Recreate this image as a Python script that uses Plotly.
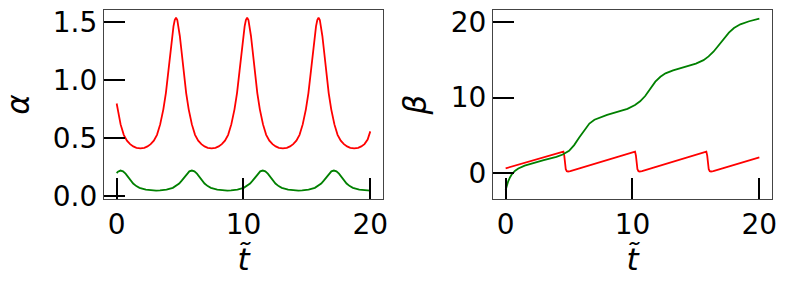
import plotly.graph_objects as go

# ---- left panel: alpha ----
t_alpha_red = [0, 0.31, 0.56, 0.81, 1.06, 1.31, 1.56, 1.87, 2.18, 2.43, 2.68, 2.93, 3.18, 3.43, 3.68, 3.88,
               4.08, 4.18, 4.28, 4.38, 4.48, 4.58, 4.68, 4.78, 4.88, 4.98, 5.08, 5.18, 5.28, 5.48, 5.68,
               5.93, 6.18, 6.43, 6.68, 6.93, 7.18, 7.485, 7.79, 8.04, 8.29, 8.54, 8.79, 9.04, 9.29, 9.49,
               9.69, 9.79, 9.89, 9.99, 10.09, 10.19, 10.29, 10.39, 10.49, 10.59, 10.69, 10.79, 10.89, 11.09,
               11.29, 11.54, 11.79, 12.04, 12.29, 12.54, 12.79, 13.105, 13.42, 13.67, 13.92, 14.17, 14.42,
               14.67, 14.92, 15.12, 15.32, 15.42, 15.52, 15.62, 15.72, 15.82, 15.92, 16.02, 16.12, 16.22,
               16.32, 16.42, 16.52, 16.72, 16.92, 17.17, 17.42, 17.67, 17.92, 18.17, 18.42, 18.73, 19.04,
               19.29, 19.54, 19.79, 20.0]
alpha_red = [0.80, 0.62, 0.53, 0.48, 0.45, 0.43, 0.418, 0.414, 0.418, 0.43, 0.45, 0.48, 0.53, 0.62, 0.75, 0.89,
             1.081, 1.182, 1.285, 1.382, 1.465, 1.52, 1.54, 1.52, 1.465, 1.382, 1.285, 1.182, 1.081, 0.89, 0.75,
             0.62, 0.53, 0.48, 0.45, 0.43, 0.418, 0.414, 0.418, 0.43, 0.45, 0.48, 0.53, 0.62, 0.75, 0.89,
             1.081, 1.182, 1.285, 1.382, 1.465, 1.52, 1.54, 1.52, 1.465, 1.382, 1.285, 1.182, 1.081, 0.89,
             0.75, 0.62, 0.53, 0.48, 0.45, 0.43, 0.418, 0.414, 0.418, 0.43, 0.45, 0.48, 0.53,
             0.62, 0.75, 0.89, 1.081, 1.182, 1.285, 1.382, 1.465, 1.52, 1.54, 1.52, 1.465, 1.382,
             1.285, 1.182, 1.081, 0.89, 0.75, 0.62, 0.53, 0.48, 0.45, 0.43, 0.418, 0.414, 0.418,
             0.43, 0.45, 0.49, 0.56]

t_alpha_green = [0, 0.1, 0.3, 0.5, 0.7, 0.9, 1.1, 1.3, 1.55, 1.8, 2.3, 2.8, 3.11,
                 3.42, 3.93, 4.43, 4.68, 4.93, 5.13, 5.33, 5.53, 5.73, 5.93, 6.13, 6.33, 6.53, 6.73, 6.93,
                 7.18, 7.43, 7.93, 8.43, 8.73,
                 9.02, 9.52, 10.02, 10.27, 10.52, 10.72, 10.92, 11.12, 11.32, 11.52, 11.72, 11.92, 12.12,
                 12.32, 12.52, 12.77, 13.02, 13.52, 14.02, 14.33,
                 14.63, 15.13, 15.63, 15.88, 16.13, 16.33, 16.53, 16.73, 16.93, 17.13, 17.33, 17.53, 17.73,
                 17.93, 18.13, 18.38, 18.63, 19.13, 19.63, 20.0]
alpha_green = [0.20, 0.212, 0.222, 0.215, 0.195, 0.165, 0.135, 0.11, 0.088, 0.073, 0.058, 0.051, 0.049,
               0.051, 0.058, 0.073, 0.088, 0.11, 0.135, 0.165, 0.195, 0.215, 0.222, 0.215, 0.195, 0.165, 0.135, 0.11,
               0.088, 0.073, 0.058, 0.051, 0.049,
               0.051, 0.058, 0.073, 0.088, 0.11, 0.135, 0.165, 0.195, 0.215, 0.222, 0.215, 0.195, 0.165,
               0.135, 0.11, 0.088, 0.073, 0.058, 0.051, 0.049,
               0.051, 0.058, 0.073, 0.088, 0.11, 0.135, 0.165, 0.195, 0.215, 0.222, 0.215, 0.195, 0.165,
               0.135, 0.11, 0.088, 0.073, 0.058, 0.051, 0.049]

# ---- right panel: beta ----
t_beta_red = [0, 2.0, 4.45, 4.55, 4.62, 4.68, 4.74, 4.82, 4.92, 5.1, 7.5,
              10.1, 10.2, 10.27, 10.33, 10.39, 10.47, 10.57, 10.75, 13.0,
              15.72, 15.82, 15.89, 15.95, 16.01, 16.09, 16.19, 16.37, 20.0]
beta_red = [0.62, 1.60, 2.80, 2.84, 2.3, 1.2, 0.5, 0.25, 0.2, 0.26, 1.47,
            2.78, 2.83, 2.3, 1.2, 0.5, 0.25, 0.2, 0.26, 1.37,
            2.78, 2.83, 2.3, 1.2, 0.5, 0.25, 0.2, 0.26, 2.06]

t_beta_green = [0, 0.1, 0.2, 0.35, 0.5, 0.75, 1.0, 1.5, 2.0, 3.0, 4.0, 4.5, 5.0, 5.4, 5.8, 6.2, 6.6,
                7.0, 7.5, 8.0, 9.0, 9.6, 10.2, 10.6, 11.0, 11.4, 11.8, 12.2, 12.6, 13.2, 14.0, 15.0,
                15.6, 16.0, 16.4, 16.8, 17.2, 17.6, 18.0, 18.5, 19.2, 20.0]
beta_green = [-2.25, -1.6, -1.1, -0.55, -0.15, 0.3, 0.6, 0.98, 1.25, 1.7, 2.15, 2.45, 2.95, 3.7, 4.7, 5.6, 6.55,
              7.05, 7.4, 7.7, 8.2, 8.5, 9.0, 9.5, 10.2, 11.2, 12.1, 12.75, 13.2, 13.6, 14.0, 14.5,
              14.95, 15.45, 16.1, 16.9, 17.8, 18.6, 19.2, 19.7, 20.1, 20.45]

x_ticks = [0, 10, 20]
alpha_ticks = [0.0, 0.5, 1.0, 1.5]
alpha_tick_text = ["0.0", "0.5", "1.0", "1.5"]
beta_ticks = [0, 10, 20]

RED = "#ff0000"
GREEN = "#008000"
FONT = "DejaVu Sans"

fig = go.Figure()
fig.add_trace(go.Scatter(x=t_alpha_red, y=alpha_red, mode="lines", line=dict(color=RED, width=1.8),
                         xaxis="x", yaxis="y", showlegend=False))
fig.add_trace(go.Scatter(x=t_alpha_green, y=alpha_green, mode="lines", line=dict(color=GREEN, width=1.8),
                         xaxis="x", yaxis="y", showlegend=False))
fig.add_trace(go.Scatter(x=t_beta_red, y=beta_red, mode="lines", line=dict(color=RED, width=1.8),
                         xaxis="x2", yaxis="y2", showlegend=False))
fig.add_trace(go.Scatter(x=t_beta_green, y=beta_green, mode="lines", line=dict(color=GREEN, width=1.8),
                         xaxis="x2", yaxis="y2", showlegend=False))

common = dict(showgrid=False, zeroline=False, showline=True, linecolor="#444444", linewidth=1.2,
              mirror=True, ticks="inside", ticklen=21, tickwidth=2, tickcolor="black", automargin=False,
              tickfont=dict(family=FONT, size=28, color="black"))

title_font = dict(family=FONT, size=31, color="black")

fig.update_layout(
    width=789, height=285,
    margin=dict(l=0, r=0, t=0, b=0),
    paper_bgcolor="white", plot_bgcolor="white",
    xaxis=dict(domain=[0.1318, 0.4854], range=[-1, 21], tickvals=x_ticks, anchor="y",
               title=dict(text="<i>t̃</i>", font=title_font, standoff=6), **common),
    yaxis=dict(domain=[0.3018, 0.9649], range=[-0.023, 1.606], tickvals=alpha_ticks,
               ticktext=alpha_tick_text, anchor="x",
               title=dict(text="<i>α</i>", font=title_font, standoff=14), **common),
    xaxis2=dict(domain=[0.6248, 0.9785], range=[-1, 21], tickvals=x_ticks, anchor="y2",
                title=dict(text="<i>t̃</i>", font=title_font, standoff=6), **common),
    yaxis2=dict(domain=[0.3018, 0.9649], range=[-3.44, 21.59], tickvals=beta_ticks, anchor="x2",
                title=dict(text="<i>β</i>", font=title_font, standoff=14), **common),
)

fig.write_html("out.html", config={"displayModeBar": False},
               post_script="document.body.style.margin='0';document.body.style.padding='0';")
